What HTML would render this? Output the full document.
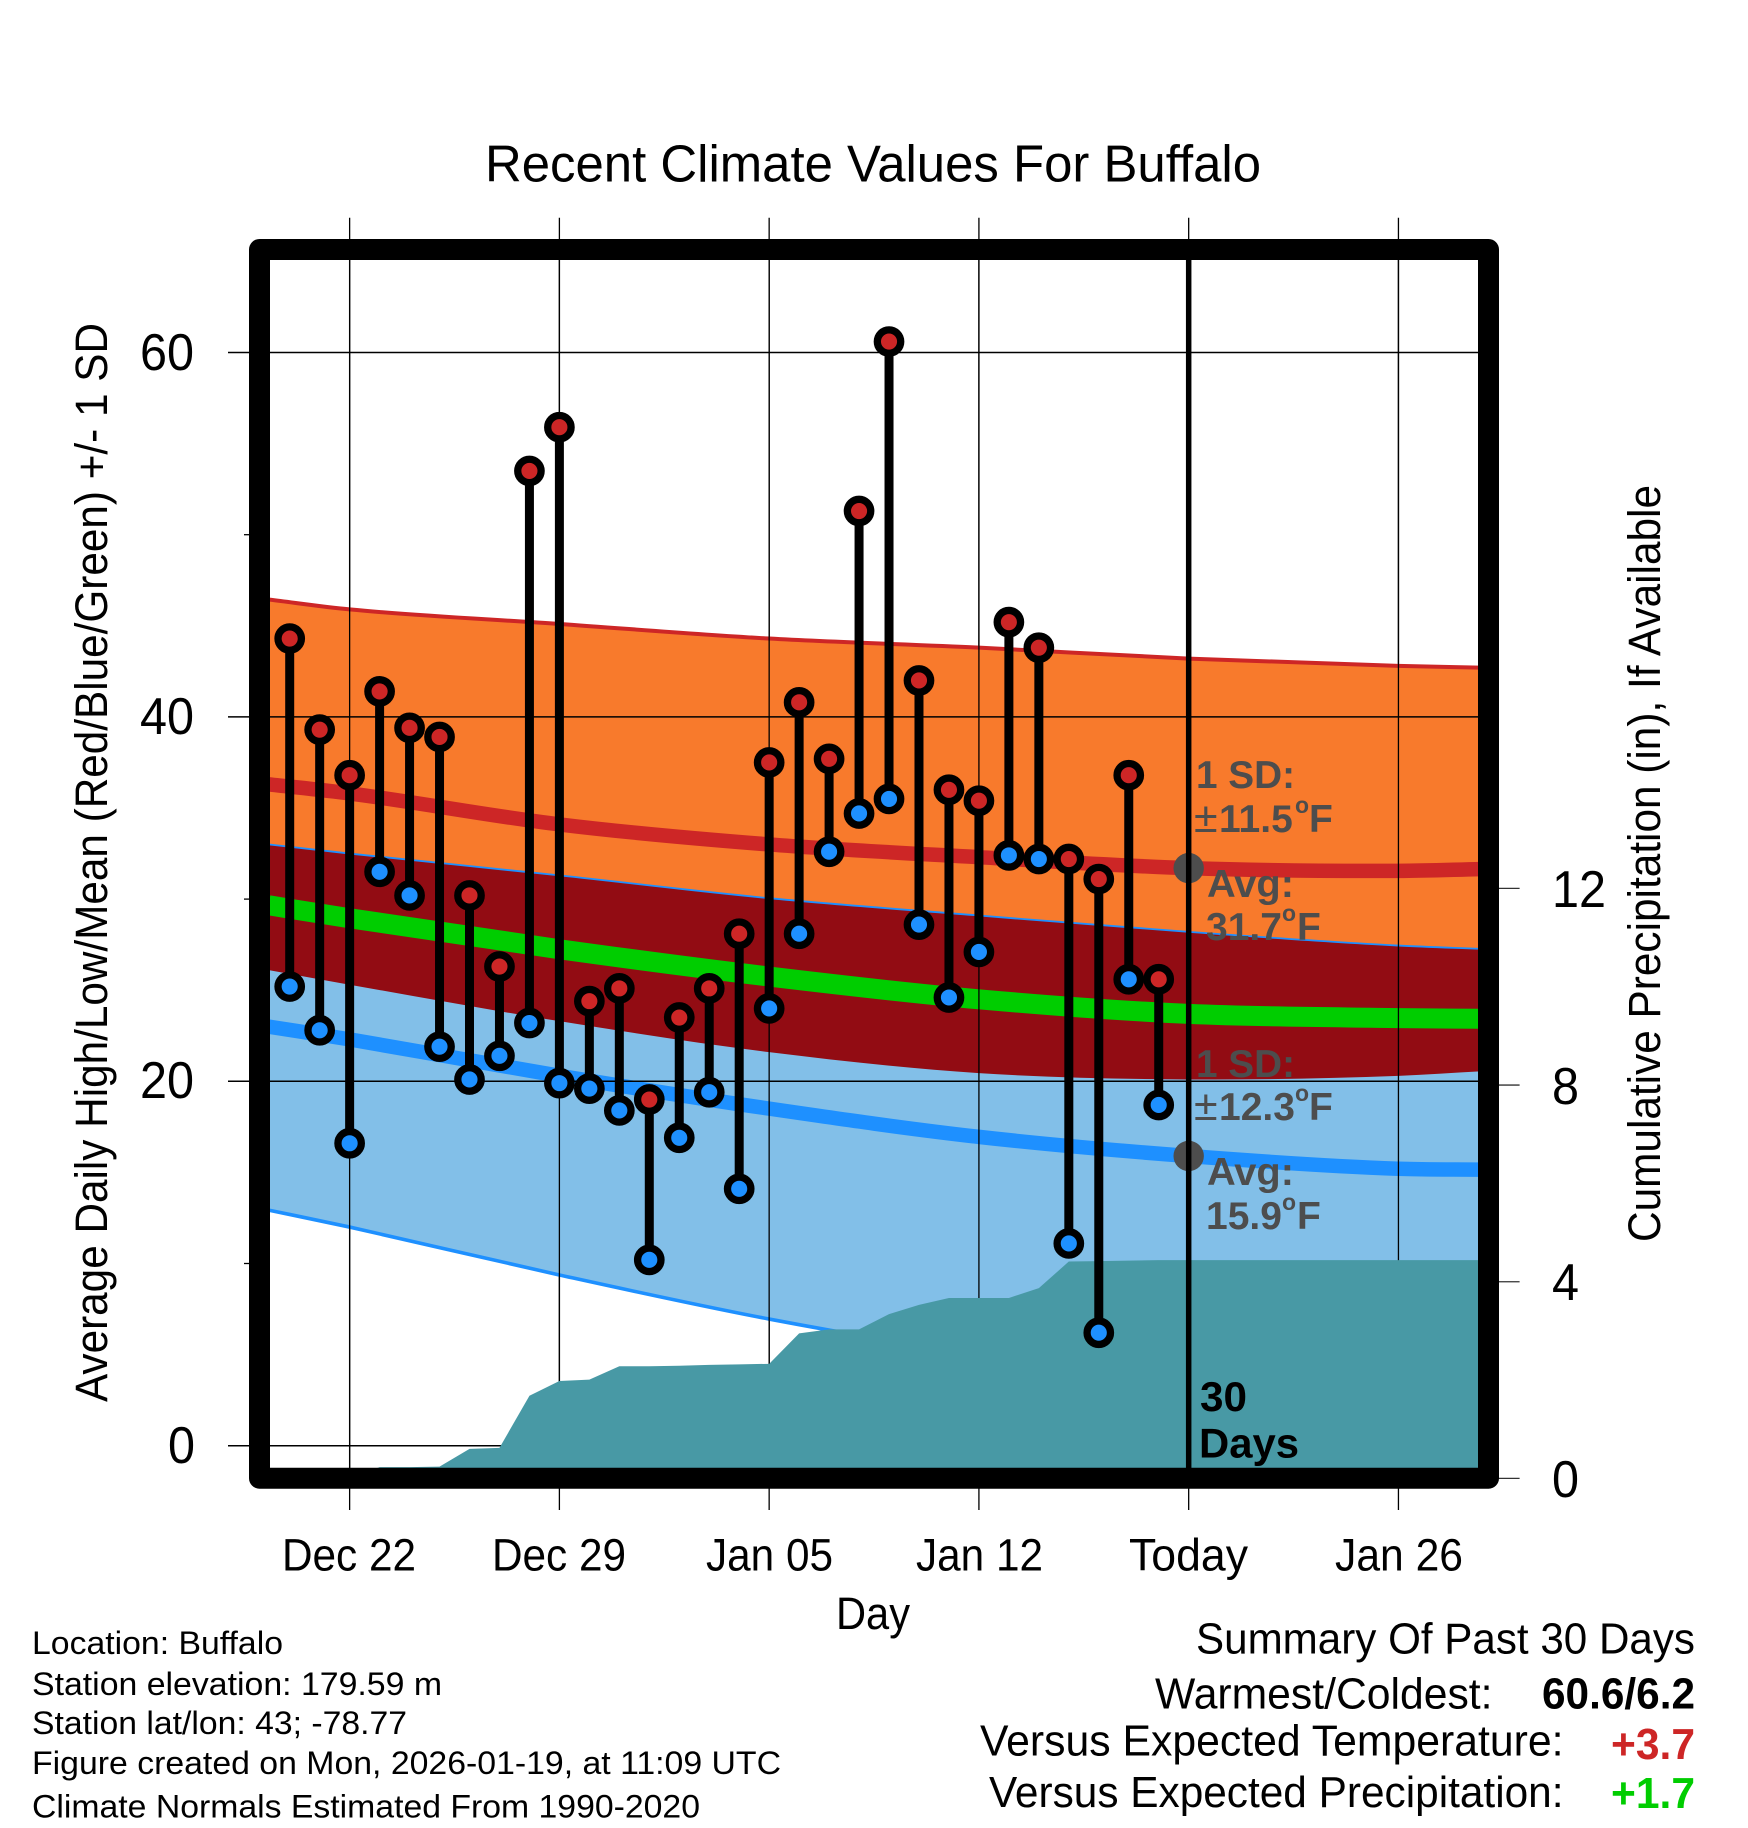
<!DOCTYPE html>
<html lang="en">
<head>
<meta charset="utf-8">
<title>Recent Climate Values For Buffalo</title>
<style>
html,body{margin:0;padding:0;background:#fff;}
svg{display:block;}
text{font-family:"Liberation Sans",sans-serif;fill:#000;}
.tick{font-size:52px;}
.axis{font-size:45px;}
.date{font-size:45px;}
.info{font-size:32.5px;}
.sum{font-size:44px;}
.note{font-size:39px;font-weight:bold;fill:#4d4d4d;}
.days{font-size:42px;font-weight:bold;}
</style>
</head>
<body>
<svg id="chart" xmlns="http://www.w3.org/2000/svg" width="1748" height="1828" viewBox="0 0 1748 1828">
  <defs>
    <clipPath id="plot-clip"><rect x="269.5" y="259.5" width="1210" height="1209"></rect></clipPath>
  </defs>
  <rect x="0" y="0" width="1748" height="1828" fill="#ffffff"></rect>
  <g id="axis-ticks"></g>
  <g id="plot-area" clip-path="url(#plot-clip)"></g>
  <rect x="259.5" y="249.5" width="1229" height="1228.7" fill="none" stroke="#000" stroke-width="21" stroke-linejoin="round"></rect>

  <text x="485" y="181.7" font-size="52" textLength="776" lengthAdjust="spacingAndGlyphs">Recent Climate Values For Buffalo</text>

  <text class="axis" transform="translate(107,1402) rotate(-90)" textLength="1079" lengthAdjust="spacingAndGlyphs">Average Daily High/Low/Mean (Red/Blue/Green) +/- 1 SD</text>
  <text class="axis" transform="translate(1660,1242) rotate(-90)" textLength="757" lengthAdjust="spacingAndGlyphs">Cumulative Precipitation (in), If Available</text>
  <text class="axis" x="836" y="1629" textLength="74" lengthAdjust="spacingAndGlyphs">Day</text>

  <text class="tick" x="140" y="370" textLength="54" lengthAdjust="spacingAndGlyphs">60</text>
  <text class="tick" x="140" y="734" textLength="54" lengthAdjust="spacingAndGlyphs">40</text>
  <text class="tick" x="140" y="1098" textLength="54" lengthAdjust="spacingAndGlyphs">20</text>
  <text class="tick" x="168" y="1463" textLength="27" lengthAdjust="spacingAndGlyphs">0</text>

  <text class="tick" x="1552" y="907" textLength="54" lengthAdjust="spacingAndGlyphs">12</text>
  <text class="tick" x="1552" y="1104" textLength="27" lengthAdjust="spacingAndGlyphs">8</text>
  <text class="tick" x="1552" y="1300" textLength="27" lengthAdjust="spacingAndGlyphs">4</text>
  <text class="tick" x="1552" y="1497" textLength="27" lengthAdjust="spacingAndGlyphs">0</text>

  <text class="date" x="282" y="1570.5" textLength="134" lengthAdjust="spacingAndGlyphs">Dec 22</text>
  <text class="date" x="492" y="1570.5" textLength="134" lengthAdjust="spacingAndGlyphs">Dec 29</text>
  <text class="date" x="706" y="1570.5" textLength="127" lengthAdjust="spacingAndGlyphs">Jan 05</text>
  <text class="date" x="916" y="1570.5" textLength="127" lengthAdjust="spacingAndGlyphs">Jan 12</text>
  <text class="date" x="1129" y="1570.5" textLength="119" lengthAdjust="spacingAndGlyphs">Today</text>
  <text class="date" x="1335" y="1570.5" textLength="128" lengthAdjust="spacingAndGlyphs">Jan 26</text>

  <text class="note" x="1196" y="788" textLength="99" lengthAdjust="spacingAndGlyphs">1 SD:</text>
  <text class="note" x="1194" y="832"><tspan font-weight="normal" font-size="43">±</tspan><tspan x="1219">11.5</tspan><tspan x="1295" dy="-19" font-size="23">o</tspan><tspan x="1309" dy="19">F</tspan></text>
  <text class="note" x="1207" y="897" textLength="87" lengthAdjust="spacingAndGlyphs">Avg:</text>
  <text class="note" x="1206" y="940">31.7<tspan x="1282" dy="-19" font-size="23">o</tspan><tspan x="1297" dy="19">F</tspan></text>
  <text class="note" x="1196" y="1077" textLength="99" lengthAdjust="spacingAndGlyphs">1 SD:</text>
  <text class="note" x="1194" y="1120"><tspan font-weight="normal" font-size="43">±</tspan><tspan x="1219">12.3</tspan><tspan x="1295" dy="-19" font-size="23">o</tspan><tspan x="1309" dy="19">F</tspan></text>
  <text class="note" x="1207" y="1185" textLength="87" lengthAdjust="spacingAndGlyphs">Avg:</text>
  <text class="note" x="1206" y="1229">15.9<tspan x="1282" dy="-19" font-size="23">o</tspan><tspan x="1297" dy="19">F</tspan></text>

  <text class="days" x="1200" y="1411" textLength="47" lengthAdjust="spacingAndGlyphs">30</text>
  <text class="days" x="1199" y="1457.7" textLength="100" lengthAdjust="spacingAndGlyphs">Days</text>

  <text class="info" x="32" y="1654" textLength="251" lengthAdjust="spacingAndGlyphs">Location: Buffalo</text>
  <text class="info" x="32" y="1695" textLength="410" lengthAdjust="spacingAndGlyphs">Station elevation: 179.59 m</text>
  <text class="info" x="32" y="1734" textLength="375" lengthAdjust="spacingAndGlyphs">Station lat/lon: 43; -78.77</text>
  <text class="info" x="32" y="1774" textLength="749" lengthAdjust="spacingAndGlyphs">Figure created on Mon, 2026-01-19, at 11:09 UTC</text>
  <text class="info" x="32" y="1817.5" textLength="668" lengthAdjust="spacingAndGlyphs">Climate Normals Estimated From 1990-2020</text>

  <text class="sum" x="1196" y="1653.3" textLength="499" lengthAdjust="spacingAndGlyphs">Summary Of Past 30 Days</text>
  <text class="sum" x="1155" y="1708.5" textLength="337.5" lengthAdjust="spacingAndGlyphs">Warmest/Coldest:</text>
  <text class="sum" font-weight="bold" x="1542" y="1708.5" textLength="153" lengthAdjust="spacingAndGlyphs">60.6/6.2</text>
  <text class="sum" x="980" y="1755.5" textLength="583.5" lengthAdjust="spacingAndGlyphs">Versus Expected Temperature:</text>
  <text class="sum" font-weight="bold" x="1611" y="1759" textLength="84" lengthAdjust="spacingAndGlyphs" style="fill:#cd2626">+3.7</text>
  <text class="sum" x="989" y="1807" textLength="574.5" lengthAdjust="spacingAndGlyphs">Versus Expected Precipitation:</text>
  <text class="sum" font-weight="bold" x="1611" y="1808" textLength="84" lengthAdjust="spacingAndGlyphs" style="fill:#00cd00">+1.7</text>
</svg>
<script>
// Observed daily values (deg F), first entry is Dec 20, one per day for 30 days
const dailyHigh = [44.3,39.3,36.8,41.4,39.4,38.9,30.2,26.3,53.5,55.9,24.4,25.1,19.0,23.5,25.1,28.1,37.5,40.8,37.7,51.3,60.6,42.0,36.0,35.4,45.2,43.8,32.2,31.1,36.8,25.6];
const dailyLow = [25.2,22.8,16.6,31.5,30.2,21.9,20.1,21.4,23.2,19.9,19.6,18.4,10.2,16.9,19.4,14.1,24.0,28.1,32.6,34.7,35.5,28.6,24.6,27.1,32.4,32.2,11.1,6.2,25.6,18.7];
// Climate normals sampled on these day offsets from Dec 20
const normalDays = [-0.7,2,9,16,23,30,37,39.8];
const highUpper = [46.44,45.9,45.1,44.3,43.8,43.2,42.8,42.7];
const highAvg = [36.3,35.8,34.1,33.0,32.3,31.7,31.55,31.65];
const highLower = [26.1,25.3,23.3,21.6,20.45,20.1,20.3,20.55];
const lowUpper = [33.0,32.5,31.3,30.05,29.1,28.2,27.45,27.27];
const lowAvg = [23.0,22.3,20.3,18.5,16.95,15.9,15.2,15.15];
const lowLower = [12.93,12.0,9.37,6.95,5.0,3.6,2.9,2.7];
const meanAvg = [29.66,28.95,27.25,25.75,24.5,23.7,23.47,23.43];
// Cumulative precipitation (in)
const precipDays = [0,1,2,3,4,5,6,7,8,9,10,11,12,13,14,15,16,17,18,19,20,21,22,23,24,25,26,27,28,29,39.8];
const precipValues = [0,0,0,0.23,0.23,0.24,0.6,0.62,1.68,1.98,2.01,2.28,2.28,2.29,2.31,2.32,2.33,2.95,3.03,3.03,3.34,3.53,3.67,3.67,3.67,3.87,4.41,4.42,4.43,4.44,4.44];
// Axis ticks
const dateTickDays = [2,9,16,23,30,37];
const tempMajorTicks = [60,40,20,0];
const tempMinorTicks = [50,30,10];
const precipTicks = [12,8,4,0];
const todayDay = [30];
const todayAverages = [31.7,15.9];

function xDay(d){ return 289.7 + d * 29.966; }
function yTemp(t){ return 1445.7 - t * 18.22; }
function yPrecip(p){ return 1478.4 - p * 49.17; }

const NS = 'http://www.w3.org/2000/svg';
const plot = document.getElementById('plot-area');
const ticks = document.getElementById('axis-ticks');

function make(tag, parent){
  const el = document.createElementNS(NS, tag);
  parent.appendChild(el);
  return el;
}
// Smooth curve through the normals (Hermite segments written as cubic Beziers)
function curveSegments(values, reverse){
  const pts = normalDays.map(function(d, i){ return [xDay(d), yTemp(values[i])]; });
  const slopes = [];
  for (let i = 0; i < pts.length - 1; i++){
    slopes.push((pts[i + 1][1] - pts[i][1]) / (pts[i + 1][0] - pts[i][0]));
  }
  const tang = pts.map(function(p, i){
    if (i === 0) return slopes[0];
    if (i === pts.length - 1) return slopes[slopes.length - 1];
    return (slopes[i - 1] + slopes[i]) / 2;
  });
  const segs = [];
  for (let i = 0; i < pts.length - 1; i++){
    const h = (pts[i + 1][0] - pts[i][0]) / 3;
    segs.push({
      a: pts[i],
      c1: [pts[i][0] + h, pts[i][1] + tang[i] * h],
      c2: [pts[i + 1][0] - h, pts[i + 1][1] - tang[i + 1] * h],
      b: pts[i + 1]
    });
  }
  function f(p){ return p[0].toFixed(2) + ' ' + p[1].toFixed(2); }
  if (!reverse){
    return { start: f(segs[0].a), body: segs.map(function(s){ return 'C' + f(s.c1) + ' ' + f(s.c2) + ' ' + f(s.b); }).join(' ') };
  }
  const rev = segs.slice().reverse();
  return { start: f(rev[0].b), body: rev.map(function(s){ return 'C' + f(s.c2) + ' ' + f(s.c1) + ' ' + f(s.a); }).join(' ') };
}
function linePath(values){
  const c = curveSegments(values, false);
  return 'M' + c.start + ' ' + c.body;
}
function bandPath(upper, lower){
  const u = curveSegments(upper, false);
  const l = curveSegments(lower, true);
  return 'M' + u.start + ' ' + u.body + ' L' + l.start + ' ' + l.body + ' Z';
}

// Normal bands
const lowBand = make('path', plot);


lowBand.setAttribute('d', bandPath(lowUpper, lowLower));
lowBand.setAttribute('fill', '#82bfe8');

const lowLowerLine = make('path', plot);


lowLowerLine.setAttribute('d', linePath(lowLower));
lowLowerLine.setAttribute('fill', 'none');
lowLowerLine.setAttribute('stroke', '#1e90ff');
lowLowerLine.setAttribute('stroke-width', '3.6');

const highBand = make('path', plot);


highBand.setAttribute('d', bandPath(highUpper, lowUpper));
highBand.setAttribute('fill', '#f87a2c');

const overlapBand = make('path', plot);


overlapBand.setAttribute('d', bandPath(lowUpper, highLower));
overlapBand.setAttribute('fill', '#920c13');

const lowUpperLine = make('path', plot);


lowUpperLine.setAttribute('d', linePath(lowUpper));
lowUpperLine.setAttribute('fill', 'none');
lowUpperLine.setAttribute('stroke', '#1e90ff');
lowUpperLine.setAttribute('stroke-width', '1.8');

const highUpperLine = make('path', plot);


highUpperLine.setAttribute('d', linePath(highUpper));
highUpperLine.setAttribute('fill', 'none');
highUpperLine.setAttribute('stroke', '#cd2626');
highUpperLine.setAttribute('stroke-width', '4');

const meanLine = make('path', plot);


meanLine.setAttribute('d', linePath(meanAvg));
meanLine.setAttribute('fill', 'none');
meanLine.setAttribute('stroke', '#00cd00');
meanLine.setAttribute('stroke-width', '20');

const highLine = make('path', plot);


highLine.setAttribute('d', linePath(highAvg));
highLine.setAttribute('fill', 'none');
highLine.setAttribute('stroke', '#cd2626');
highLine.setAttribute('stroke-width', '14.5');

const lowLine = make('path', plot);


lowLine.setAttribute('d', linePath(lowAvg));
lowLine.setAttribute('fill', 'none');
lowLine.setAttribute('stroke', '#1e90ff');
lowLine.setAttribute('stroke-width', '14.5');

// Vertical date grid and its ticks (extend outside the frame)
dateTickDays.forEach(function(d){
  const outer = make('line', ticks);
  
  
  outer.setAttribute('x1', xDay(d));
  outer.setAttribute('x2', xDay(d));
  outer.setAttribute('y1', 217.7);
  outer.setAttribute('y2', 1510);
  outer.setAttribute('stroke', '#000');
  outer.setAttribute('stroke-width', '1.3');
  const grid = make('line', plot);
  
  
  grid.setAttribute('x1', xDay(d));
  grid.setAttribute('x2', xDay(d));
  grid.setAttribute('y1', 260);
  grid.setAttribute('y2', 1468);
  grid.setAttribute('stroke', '#000');
  grid.setAttribute('stroke-width', '1.3');
});

// Horizontal temperature grid
tempMajorTicks.forEach(function(t){
  const outer = make('line', ticks);
  
  
  outer.setAttribute('x1', 228);
  outer.setAttribute('x2', 260);
  outer.setAttribute('y1', yTemp(t));
  outer.setAttribute('y2', yTemp(t));
  outer.setAttribute('stroke', '#000');
  outer.setAttribute('stroke-width', '1.5');
  const grid = make('line', plot);
  
  
  grid.setAttribute('x1', 269);
  grid.setAttribute('x2', 1480);
  grid.setAttribute('y1', yTemp(t));
  grid.setAttribute('y2', yTemp(t));
  grid.setAttribute('stroke', '#000');
  grid.setAttribute('stroke-width', '1.5');
});
tempMinorTicks.forEach(function(t){
  const minor = make('line', ticks);
  
  
  minor.setAttribute('x1', 244);
  minor.setAttribute('x2', 260);
  minor.setAttribute('y1', yTemp(t));
  minor.setAttribute('y2', yTemp(t));
  minor.setAttribute('stroke', '#000');
  minor.setAttribute('stroke-width', '1.3');
});
precipTicks.forEach(function(p){
  const tick = make('line', ticks);
  
  
  tick.setAttribute('x1', 1490);
  tick.setAttribute('x2', 1519.6);
  tick.setAttribute('y1', yPrecip(p));
  tick.setAttribute('y2', yPrecip(p));
  tick.setAttribute('stroke', '#333');
  tick.setAttribute('stroke-width', '1.3');
});

// Precipitation area
const precipPts = precipDays.map(function(d, i){ return xDay(d).toFixed(2) + ',' + yPrecip(precipValues[i]).toFixed(2); });
precipPts.push(xDay(precipDays[precipDays.length - 1]).toFixed(2) + ',' + yPrecip(0).toFixed(2));
precipPts.push(xDay(precipDays[0]).toFixed(2) + ',' + yPrecip(0).toFixed(2));
const precipArea = make('polygon', plot);


precipArea.setAttribute('points', precipPts.join(' '));
precipArea.setAttribute('fill', '#4899a5');

// Today's averages and line
todayAverages.forEach(function(t){
  const dot = make('circle', plot);
  
  
  dot.setAttribute('cx', xDay(todayDay[0]));
  dot.setAttribute('cy', yTemp(t));
  dot.setAttribute('r', 15.2);
  dot.setAttribute('fill', '#4d4d4d');
});
const todayLine = make('line', plot);


todayLine.setAttribute('x1', xDay(todayDay[0]));
todayLine.setAttribute('x2', xDay(todayDay[0]));
todayLine.setAttribute('y1', 260);
todayLine.setAttribute('y2', 1468);
todayLine.setAttribute('stroke', '#000');
todayLine.setAttribute('stroke-width', '5.5');

// Daily high-low stems and markers
dailyHigh.forEach(function(h, i){
  const stem = make('line', plot);
  
  
  stem.setAttribute('x1', xDay(i));
  stem.setAttribute('x2', xDay(i));
  stem.setAttribute('y1', yTemp(h));
  stem.setAttribute('y2', yTemp(dailyLow[i]));
  stem.setAttribute('stroke', '#000');
  stem.setAttribute('stroke-width', '9');
});
dailyHigh.forEach(function(h, i){
  const hi = make('circle', plot);
  
  
  hi.setAttribute('cx', xDay(i));
  hi.setAttribute('cy', yTemp(h));
  hi.setAttribute('r', 11.7);
  hi.setAttribute('fill', '#cd2626');
  hi.setAttribute('stroke', '#000');
  hi.setAttribute('stroke-width', '7.3');
  const lo = make('circle', plot);
  
  
  lo.setAttribute('cx', xDay(i));
  lo.setAttribute('cy', yTemp(dailyLow[i]));
  lo.setAttribute('r', 11.7);
  lo.setAttribute('fill', '#1e90ff');
  lo.setAttribute('stroke', '#000');
  lo.setAttribute('stroke-width', '7.3');
});
</script>
</body>
</html>
